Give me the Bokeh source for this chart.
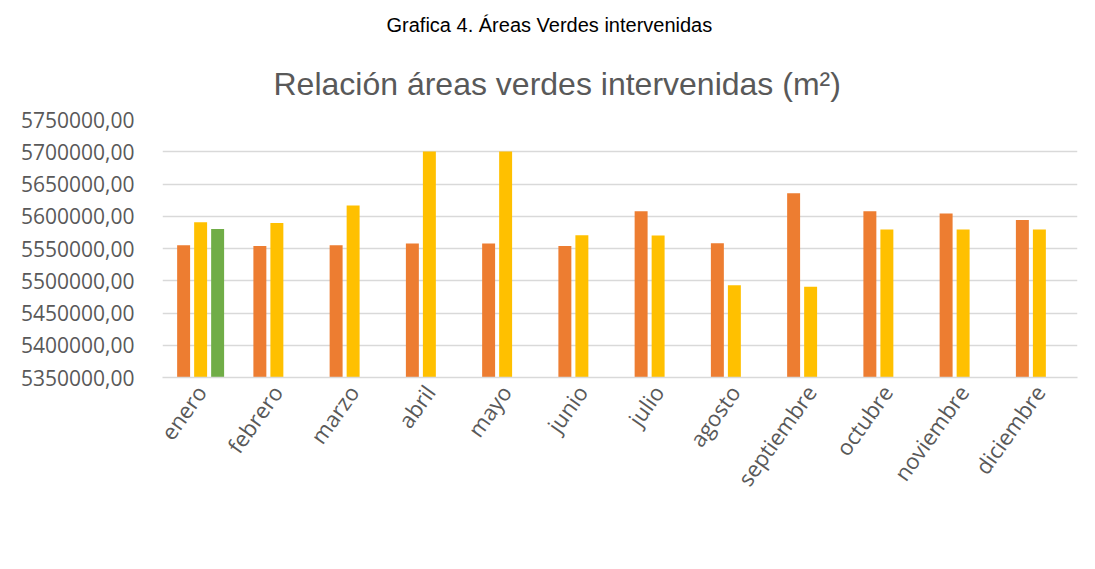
from bokeh.plotting import figure
from bokeh.models import (FactorRange, Range1d, FixedTicker, CustomJSTickFormatter,
                          Legend, LegendItem, Title, ColumnDataSource)
from bokeh.transform import dodge
from bokeh.embed import file_html
from bokeh.resources import INLINE

caption = "Grafica 4. Áreas Verdes intervenidas"
title = "Relación áreas verdes intervenidas (m²)"
months = ["enero", "febrero", "marzo", "abril", "mayo", "junio", "julio",
          "agosto", "septiembre", "octubre", "noviembre", "diciembre"]
series_names = ["2021", "2022", "2023"]
v2021 = [5555000, 5554000, 5555000, 5557600, 5557600, 5554000,
         5607800, 5558100, 5635800, 5607800, 5604200, 5594300]
v2022 = [5590700, 5589600, 5616600, 5700500, 5700500, 5570500,
         5570000, 5492900, 5490800, 5579300, 5579300, 5579300]
v2023 = [5580300, float("nan"), float("nan"), float("nan"), float("nan"), float("nan"),
         float("nan"), float("nan"), float("nan"), float("nan"), float("nan"), float("nan")]
y_ticks = [5350000, 5400000, 5450000, 5500000, 5550000, 5600000, 5650000, 5700000, 5750000]
colors = ["#ED7D31", "#FFC000", "#70AD47"]

src = ColumnDataSource(dict(month=months, s2021=v2021, s2022=v2022, s2023=v2023))

p = figure(frame_width=915, frame_height=258, output_backend="svg", toolbar_location=None,
           x_range=FactorRange(factors=months, range_padding=0),
           y_range=Range1d(y_ticks[0], y_ticks[-1]))
p.min_border_left = 162
p.min_border_right = 18
p.min_border_top = 119
p.min_border_bottom = 0
p.outline_line_color = None
p.title = Title(text=caption, align="left", offset=224, standoff=20,
                text_font="Liberation Sans", text_font_size="20px",
                text_font_style="normal", text_color="#000000")
p.add_layout(Title(text=title, align="left", offset=111, standoff=36,
                   text_font="Liberation Sans", text_font_size="32px",
                   text_font_style="normal", text_color="#595959"), "above")

renderers = []
offsets = [-0.223, 0.0, 0.223]
for name, col, off, c in zip(series_names, ["s2021", "s2022", "s2023"], offsets, colors):
    r = p.vbar(x=dodge("month", off, range=p.x_range), top=col, width=0.17,
               source=src, fill_color=c, line_color=None)
    renderers.append(r)

p.xgrid.grid_line_color = None
p.ygrid.grid_line_color = "#d9d9d9"
p.ygrid.grid_line_width = 1.5

p.yaxis.ticker = FixedTicker(ticks=y_ticks)
p.yaxis.formatter = CustomJSTickFormatter(code="return tick.toFixed(2).replace('.', ',');")
p.yaxis.axis_line_color = None
p.yaxis.major_tick_line_color = None
p.yaxis.minor_tick_line_color = None
p.yaxis.major_label_standoff = 22
p.yaxis.major_label_text_font = "Open Sans"
p.yaxis.major_label_text_font_size = "21px"
p.yaxis.major_label_text_color = "#595959"

p.xaxis.axis_line_color = "#d9d9d9"
p.xaxis.axis_line_width = 1.5
p.xaxis.major_tick_line_color = None
p.xaxis.minor_tick_line_color = None
p.xaxis.major_label_orientation = 0.95
p.xaxis.major_label_standoff = 4
p.xaxis.major_label_text_font = "Open Sans"
p.xaxis.major_label_text_font_size = "22px"
p.xaxis.major_label_text_color = "#595959"

legend = Legend(items=[LegendItem(label=n, renderers=[r]) for n, r in zip(series_names, renderers)],
                orientation="horizontal", location="center")
legend.glyph_width = 14
legend.glyph_height = 14
legend.label_standoff = 5
legend.spacing = 21
legend.padding = 0
legend.margin = 0
legend.border_line_color = None
legend.background_fill_alpha = 0
legend.label_text_font = "Open Sans"
legend.label_text_font_size = "19px"
legend.label_text_color = "#595959"
p.add_layout(legend, "below")

open("out.html", "w").write(file_html(p, INLINE))
